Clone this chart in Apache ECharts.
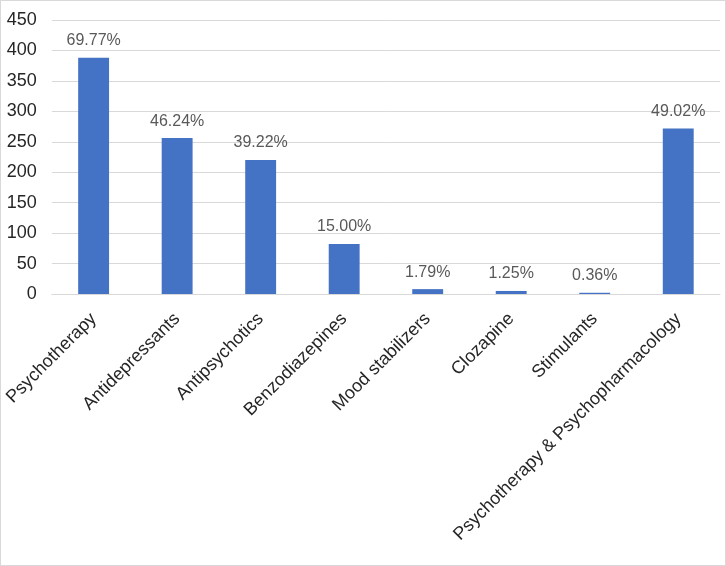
<!DOCTYPE html>
<html>
<head>
<meta charset="utf-8">
<script src="https://cdn.jsdelivr.net/npm/echarts@6/dist/echarts.min.js"></script>
<style>
  html, body { margin: 0; padding: 0; background: #fff; }
  #main { width: 724px; height: 564px; border: 1px solid #d9d9d9; }
</style>
</head>
<body>
<div id="main"></div>
<script>
    var categories = ['Psychotherapy', 'Antidepressants', 'Antipsychotics', 'Benzodiazepines',
        'Mood stabilizers', 'Clozapine', 'Stimulants', 'Psychotherapy & Psychopharmacology'];
    var counts = [388, 256, 220, 82, 8, 5, 2, 272];
    var percents = ['69.77%', '46.24%', '39.22%', '15.00%', '1.79%', '1.25%', '0.36%', '49.02%'];
    var yTicks = [0, 50, 100, 150, 200, 250, 300, 350, 400, 450];

    var myChart = echarts.init(document.getElementById('main'));
    var option = {
        color: ['#4472c4'],
        textStyle: { fontFamily: 'Liberation Sans, Arial, sans-serif' },
        grid: {
            left: 50,
            right: 5,
            top: 19,
            bottom: 271
        },
        xAxis: {
            type: 'category',
            data: categories,
            axisLine: { lineStyle: { color: '#d9d9d9' } },
            axisTick: { length: 6, lineStyle: { color: '#d9d9d9' } },
            axisLabel: {
                rotate: 45,
                interval: 0,
                fontSize: 18,
                color: '#262626',
                margin: 22
            }
        },
        yAxis: {
            type: 'value',
            min: yTicks[0],
            max: yTicks[yTicks.length - 1],
            interval: 50,
            axisLine: { show: false },
            axisTick: { show: false },
            splitLine: { lineStyle: { color: '#d9d9d9' } },
            axisLabel: { fontSize: 18, color: '#262626', margin: 15 }
        },
        series: [{
            type: 'bar',
            data: counts,
            barWidth: '37%',
            label: {
                show: true,
                position: 'top',
                distance: 9,
                fontSize: 16,
                color: '#595959',
                formatter: function (p) { return percents[p.dataIndex]; }
            }
        }]
    };
    myChart.setOption(option, true);
</script>
</body>
</html>
